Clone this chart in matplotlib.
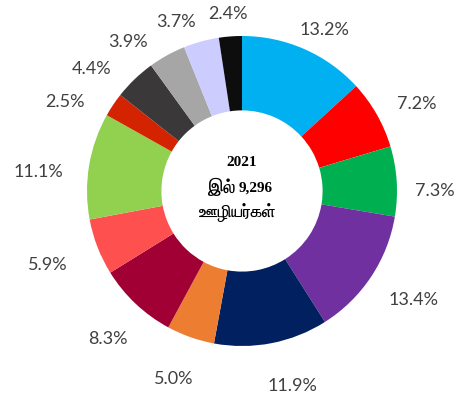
import numpy as np
import matplotlib
matplotlib.use("Agg")
import matplotlib.pyplot as plt
from matplotlib import font_manager as fm
from matplotlib.ft2font import FT2Font

# data, clockwise from 12 o'clock
shares = [13.2, 7.2, 7.3, 13.4, 11.9, 5.0, 8.3, 5.9, 11.1, 2.5, 4.4, 3.9, 3.7, 2.4]
labels = ["13.2%", "7.2%", "7.3%", "13.4%", "11.9%", "5.0%", "8.3%",
          "5.9%", "11.1%", "2.5%", "4.4%", "3.9%", "3.7%", "2.4%"]
colors = ["#00B0F0", "#FF0000", "#00B050", "#7030A0", "#002060", "#ED7D31", "#A00034",
          "#FF5050", "#92D050", "#D42300", "#3B3839", "#A6A6A6", "#CCCCFF", "#0D0D0D"]
year = "2021"
count = "9,296"

# label placement (radius in units of the outer radius, angle nudge in degrees)
label_dist = [1.17, 1.26, 1.245, 1.31, 1.30, 1.29, 1.29, 1.34, 1.32, 1.28, 1.25, 1.21, 1.17, 1.145]
label_shift = [-3.5, -3.1, -3.7, 1.0, 3.5, -0.6, 1.1, -0.2, 4.0, 7.2, 7.3, 8.7, 6.0, 0.3]


def find_tamil_font():
    found = []
    for f in fm.fontManager.ttflist:
        try:
            if 0x0B87 in FT2Font(f.fname).get_charmap():
                found.append(f.name)
        except Exception:
            pass
    for pref in ["FreeSerif", "FreeSans"]:
        if pref in found:
            return pref
    return found[0] if found else None


tamil = find_tamil_font()
serif_fams = ["Liberation Serif"] + ([tamil] if tamil else []) + ["DejaVu Sans"]
tamil_fams = ([tamil] if tamil else []) + ["DejaVu Sans"]

W, H = 459, 408
cx, cy, R = 242, 191, 155

fig = plt.figure(figsize=(W / 100, H / 100), dpi=100)
ax = fig.add_axes([0, 0, 1, 1])
wedges, _ = ax.pie(shares, colors=colors, startangle=90, counterclock=False,
                   radius=1, wedgeprops=dict(width=0.48, linewidth=0))
ax.set_xlim(-cx / R, (W - cx) / R)
ax.set_ylim(-(H - cy) / R, cy / R)
ax.axis("off")

for w, lab, d, s in zip(wedges, labels, label_dist, label_shift):
    a = np.deg2rad((w.theta1 + w.theta2) / 2 + s)
    ax.text(d * np.cos(a), d * np.sin(a), lab, ha="center", va="center",
            fontsize=13, family="Lato", color="#404040")

# centre caption
ax.text(0.0, 0.185, year, ha="center", va="center", fontsize=11,
        fontweight="bold", family=serif_fams)
ax.text(-0.045, 0.02, "இல்", ha="right", va="center", fontsize=13,
        fontweight="bold", family=tamil_fams)
ax.text(-0.025, 0.02, count, ha="left", va="center", fontsize=11,
        fontweight="bold", family=serif_fams)
ax.text(-0.03, -0.14, "ஊழியர்கள்", ha="center", va="center", fontsize=12,
        fontweight="bold", family=tamil_fams)

fig.savefig("out.png", dpi=100)
